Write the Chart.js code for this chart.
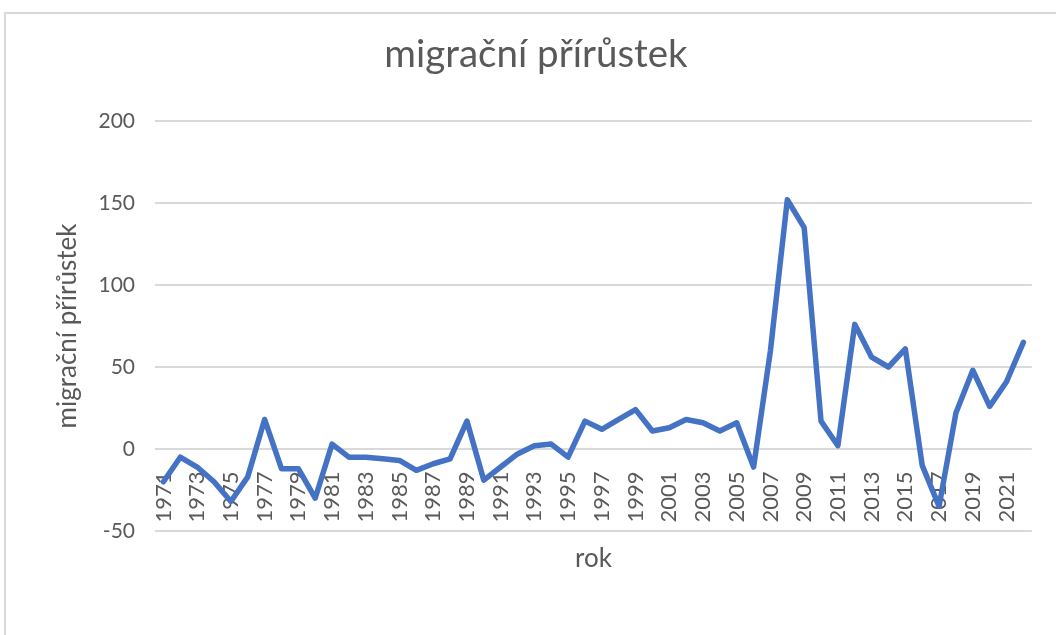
<!DOCTYPE html>
<html>
<head>
<meta charset="utf-8">
<script src="https://cdn.jsdelivr.net/npm/chart.js@4/dist/chart.umd.min.js"></script>
<style>
  html, body { margin: 0; padding: 0; background: #fff; overflow: hidden; }
  #wrap { position: relative; width: 1056px; height: 635px; }
</style>
</head>
<body>
<div id="wrap"><canvas id="chart" width="1056" height="635"></canvas></div>
<script>
const years = [];
for (let y = 1971; y <= 2022; y++) years.push(String(y));

const migrace = [
  -20, -5, -11, -20, -32, -17, 18, -12, -12, -30,
  3, -5, -5, -6, -7, -13, -9, -6, 17, -19,
  -11, -3, 2, 3, -5, 17, 12, 18, 24, 11,
  13, 18, 16, 11, 16, -11, 60, 152, 135, 17,
  2, 76, 56, 50, 61, -10, -35, 22, 48, 26,
  41, 65
];

const yTicks = [-50, 0, 50, 100, 150, 200];

const chartTitle = 'migrační přírůstek';
const textColor = '#595959';
const gridColor = '#d9d9d9';

// white background, outer frame and the chart title (Excel puts it off-centre)
const framePlugin = {
  id: 'frame',
  beforeDraw(chart) {
    const ctx = chart.ctx;
    ctx.save();
    ctx.fillStyle = '#fff';
    ctx.fillRect(0, 0, chart.width, chart.height);
    ctx.strokeStyle = gridColor;
    ctx.lineWidth = 2;
    ctx.strokeRect(5, 13, 1200, 800);
    ctx.fillStyle = textColor;
    ctx.font = '38.5px Lato';
    ctx.textAlign = 'center';
    ctx.textBaseline = 'alphabetic';
    ctx.fillText(chartTitle, 536, 67);
    ctx.restore();
  }
};

const ctx = document.getElementById('chart').getContext('2d');
new Chart(ctx, {
  type: 'line',
  data: {
    labels: years,
    datasets: [{
      label: chartTitle,
      data: migrace,
      borderColor: '#4472C4',
      borderWidth: 5.5,
      pointRadius: 0,
      tension: 0,
      borderJoinStyle: 'round',
      borderCapStyle: 'round',
      fill: false
    }]
  },
  options: {
    responsive: false,
    animation: false,
    layout: { padding: { left: 5, right: 24, top: 121, bottom: 104 } },
    plugins: {
      legend: { display: false },
      tooltip: { enabled: false },
      title: { display: false }
    },
    scales: {
      x: {
        position: { y: 0 },
        offset: true,
        grid: { display: false, drawTicks: false },
        border: { display: false },
        ticks: {
          autoSkip: false,
          minRotation: 90,
          maxRotation: 90,
          padding: 6,
          color: textColor,
          font: { family: 'Lato', size: 22 },
          callback: function (val, i) {
            // every other year, pushed down a bit below the zero line
            return i % 2 === 0 ? this.getLabelForValue(val) + '\u2003' : '';
          }
        },
        title: {
          display: true,
          text: 'rok',
          color: textColor,
          font: { family: 'Lato', size: 26 },
          padding: { top: 14, bottom: 0 }
        }
      },
      y: {
        min: -50,
        max: 200,
        afterFit: s => { s.width = 150; },
        afterBuildTicks: s => { s.ticks = yTicks.map(v => ({ value: v })); },
        grid: { color: gridColor, lineWidth: 2, drawTicks: false },
        border: { display: false },
        ticks: {
          padding: 20,
          color: textColor,
          font: { family: 'Lato', size: 21 }
        },
        title: {
          display: true,
          text: chartTitle,
          color: textColor,
          font: { family: 'Lato', size: 26 },
          padding: { top: 47, bottom: 0 }
        }
      }
    }
  },
  plugins: [framePlugin]
});
</script>
</body>
</html>
